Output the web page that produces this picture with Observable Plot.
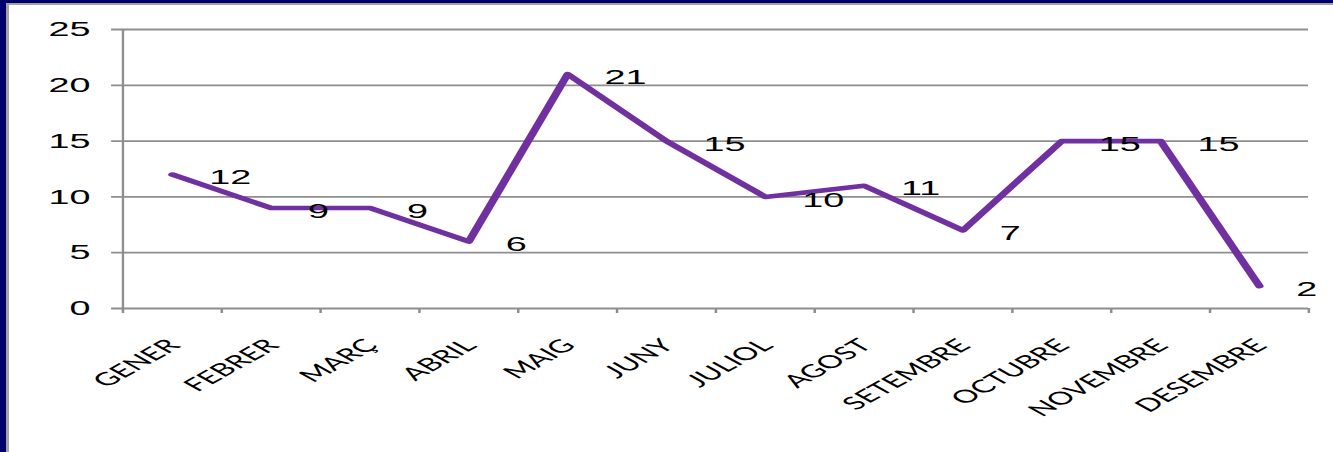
<!DOCTYPE html>
<html>
<head>
<meta charset="utf-8">
<script src="https://cdn.jsdelivr.net/npm/d3@7"></script>
<script src="https://cdn.jsdelivr.net/npm/@observablehq/plot@0.6"></script>
<style>
  html, body { margin: 0; padding: 0; background: #ffffff; overflow: hidden; }
  #frame { width: 1333px; height: 452px; box-sizing: border-box; border-left: 6px solid #00006b; border-top: 3px solid #00006b; }
  #inner { width: 100%; height: 100%; box-sizing: border-box; border-left: 3px solid #a3a3a3; border-top: 2px solid #a3a3a3; position: relative; overflow: hidden; }
  #chart svg { transform-origin: 0 0; max-width: none !important; display: block; }
</style>
</head>
<body>
<div id="frame"><div id="inner"><div id="chart"></div></div></div>
<script>
// ---- data ----
const months = ["GENER","FEBRER","MARÇ","ABRIL","MAIG","JUNY","JULIOL","AGOST","SETEMBRE","OCTUBRE","NOVEMBRE","DESEMBRE"];
const values = [12, 9, 9, 6, 21, 15, 10, 11, 7, 15, 15, 2];
const yTicks = [0, 5, 10, 15, 20, 25];

// the reference image is horizontally stretched; draw narrower then stretch
const SX = 1.8;
const W = (1333 - 9) / SX;
const H = 452 - 5;

const pts = values.map((v, i) => ({month: months[i], value: v, pos: i + 0.5}));
const boundaries = d3.range(0, months.length + 1);
const gridVals = yTicks.filter(d => d > 0);

const chart = Plot.plot({
  width: W,
  height: H,
  marginLeft: 62.8,
  marginRight: 13.9,
  marginTop: 24,
  marginBottom: 144,
  style: {background: "transparent", overflow: "visible", fontFamily: "'Liberation Sans', Arial, sans-serif", fontSize: "21px", color: "#000"},
  x: {domain: [0, months.length], axis: null},
  y: {domain: [0, 25], ticks: yTicks, tickSize: 0, tickPadding: 18, label: null},
  marks: [
    Plot.ruleY(gridVals, {x1: -0.111, x2: months.length, stroke: "#8e8e8e", strokeWidth: 1.8}),
    Plot.ruleY([0], {x1: -0.111, x2: months.length, stroke: "#8e8e8e", strokeWidth: 2}),
    Plot.ruleX(boundaries, {y1: 0, y2: -0.45, stroke: "#8e8e8e", strokeWidth: 1.4}),
    Plot.ruleX([0], {y1: 0, y2: 25, stroke: "#8e8e8e", strokeWidth: 1.3}),
    Plot.line(pts, {x: "pos", y: "value", stroke: "#7030a0", strokeWidth: 4.6, strokeLinejoin: "round", strokeLinecap: "round"}),
    Plot.text(pts, {x: "pos", y: "value", text: d => String(d.value), textAnchor: "start", dx: 20.5, dy: 3, fontSize: 21, fill: "#000"}),
    Plot.text(pts, {x: "pos", y: () => 0, text: "month", rotate: -45, textAnchor: "end", dx: 1, dy: 34, fontSize: 18, fontFamily: "Lato, 'Open Sans', sans-serif", fill: "#000"})
  ]
});
chart.style.transform = `scale(${SX}, 1)`;
document.getElementById("chart").appendChild(chart);
</script>
</body>
</html>
